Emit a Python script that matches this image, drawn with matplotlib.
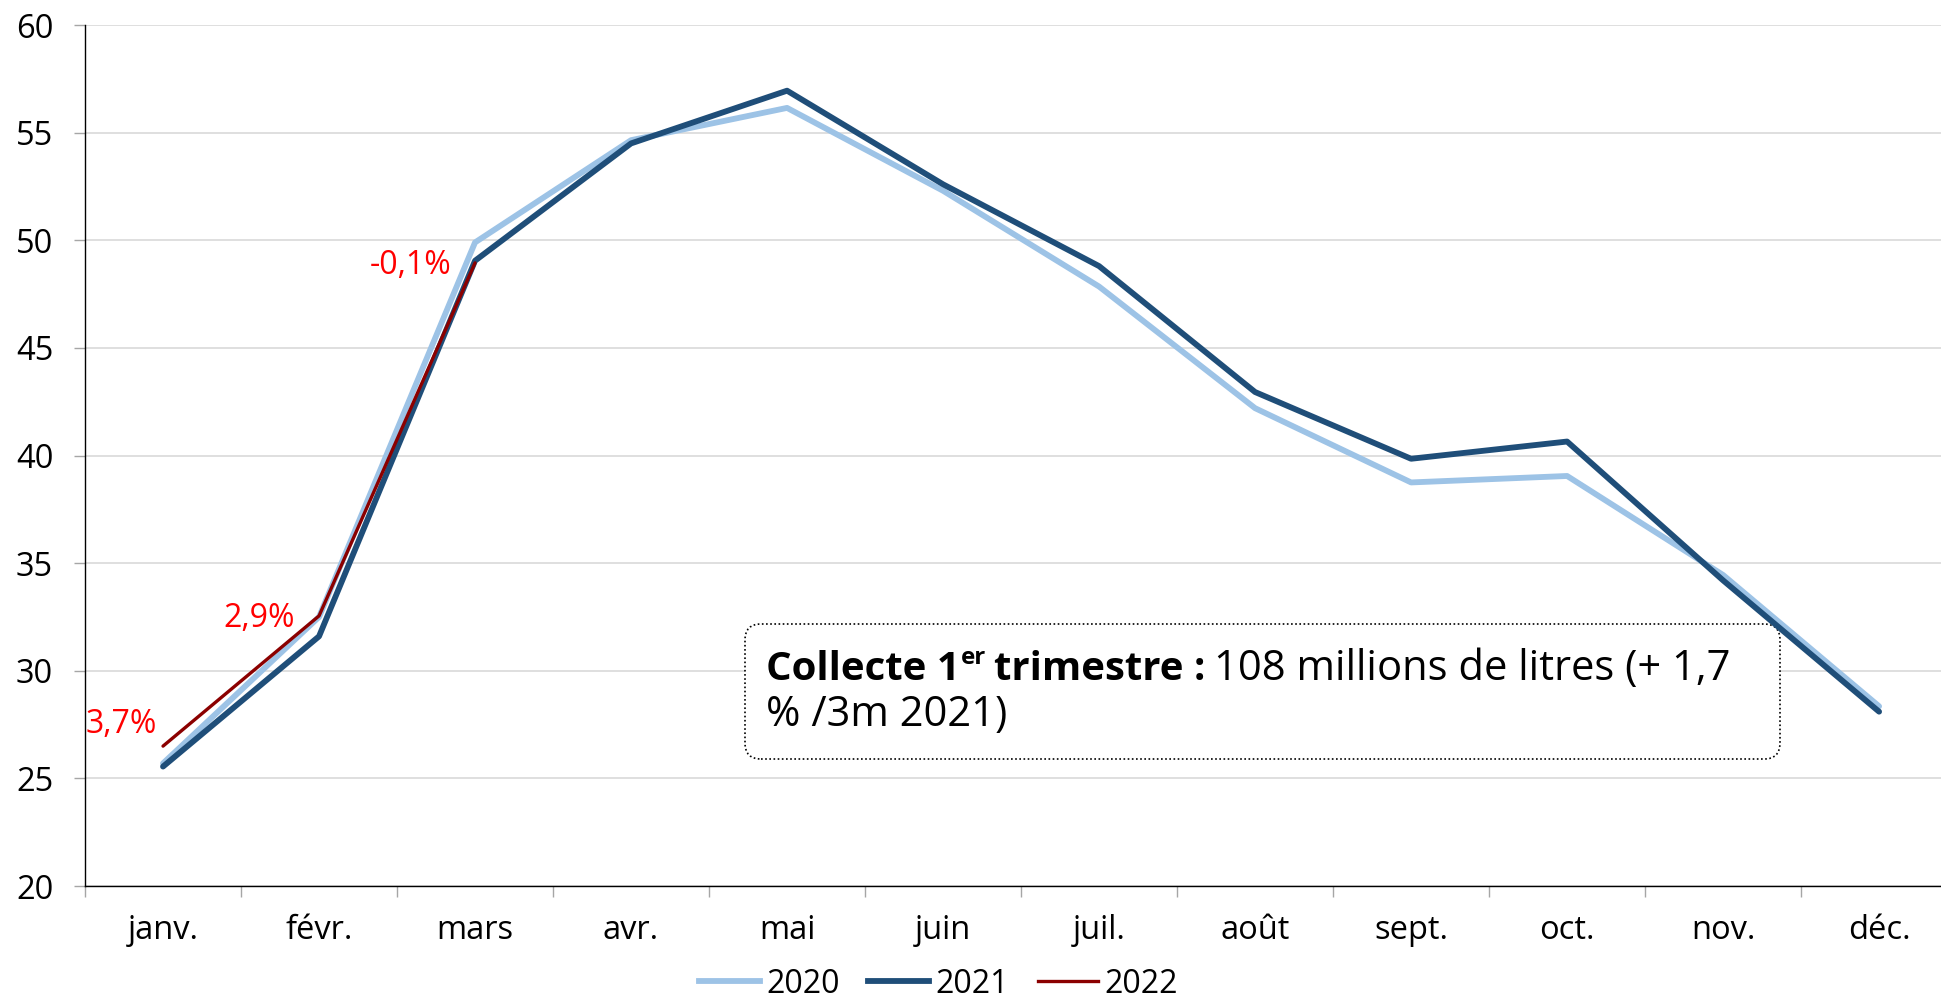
import matplotlib
matplotlib.use('Agg')
import matplotlib.pyplot as plt
from matplotlib.patches import FancyBboxPatch
from matplotlib.transforms import IdentityTransform
from matplotlib.ticker import FixedLocator
from matplotlib.lines import Line2D

plt.rcParams['font.family'] = ['Open Sans', 'DejaVu Sans']

months = ['janv.', 'févr.', 'mars', 'avr.', 'mai', 'juin',
          'juil.', 'août', 'sept.', 'oct.', 'nov.', 'déc.']
collecte_2020 = [25.7, 32.5, 49.9, 54.65, 56.15, 52.3, 47.85, 42.2, 38.75, 39.05, 34.45, 28.35]
collecte_2021 = [25.55, 31.6, 49.05, 54.5, 56.95, 52.6, 48.8, 42.95, 39.85, 40.65, 34.2, 28.1]
collecte_2022 = [26.5, 32.55, 48.95]
labels_2022 = ['3,7%', '2,9%', '-0,1%']
years = ['2020', '2021', '2022']

colors = {'2020': '#9DC3E6', '2021': '#1F4E79', '2022': '#8B0000'}

fig = plt.figure(figsize=(19.41, 9.97), dpi=100)
ax = fig.add_axes([0.0438, 0.1113, 0.9645, 0.8636])

x = list(range(len(months)))
ax.plot(x, collecte_2020, color=colors['2020'], lw=4.2, solid_capstyle='round', zorder=3)
ax.plot(x, collecte_2021, color=colors['2021'], lw=4.2, solid_capstyle='round', zorder=4)
ax.plot(x[:len(collecte_2022)], collecte_2022, color=colors['2022'], lw=2.4,
        solid_capstyle='round', zorder=5)

# pourcentages 2022 vs 2021
offsets = [(-6, 22), (-24, -3), (-24, -3)]
for i, (lab, off) in enumerate(zip(labels_2022, offsets)):
    ax.annotate(lab, (x[i], collecte_2022[i]), xytext=off, textcoords='offset pixels',
                ha='right', va='center', color='#FF0000', fontsize=23, zorder=6)

ax.set_xlim(-0.5, len(months) - 0.5)
ax.set_ylim(20, 60)
ax.set_yticks(range(20, 61, 5))
ax.set_xticks(x)
ax.set_xticklabels(months)
ax.xaxis.set_minor_locator(FixedLocator([i - 0.5 for i in range(len(months) + 1)]))
ax.tick_params(axis='x', which='major', length=0, pad=20, labelsize=23.5)
ax.tick_params(axis='x', which='minor', length=11 * 0.72, width=1, color='#A6A6A6')
ax.tick_params(axis='y', length=11 * 0.72, width=1, color='#A6A6A6', pad=15, labelsize=23.5)

ax.grid(axis='y', color='#D9D9D9', lw=1.2, zorder=0)
ax.set_axisbelow(True)
for s in ['top', 'right']:
    ax.spines[s].set_visible(False)
for s in ['left', 'bottom']:
    ax.spines[s].set_color('black')
    ax.spines[s].set_linewidth(1.0)

# encadré
box = FancyBboxPatch((745, 997 - 759), 1035, 135, boxstyle='round,pad=0,rounding_size=16',
                     transform=IdentityTransform(), facecolor='white', edgecolor='black',
                     linestyle=(0, (1, 1.5)), lw=1.2, zorder=2)
ax.add_artist(box)

renderer = fig.canvas.get_renderer()
fs_b = 29
fs_r = 30
base1 = 997 - 680
pieces = [('Collecte 1', fs_b, 'bold', 0, 1),
          ('er', fs_b * 0.6, 'bold', fs_b * 0.55, 8),
          ('trimestre :', fs_b, 'bold', 0, 9),
          ('108 millions de litres (+ 1,7', fs_r, 'normal', 0, 0)]
xpos = 766
for txt, size, weight, dy, gap in pieces:
    t = ax.text(xpos, base1 + dy, txt, transform=IdentityTransform(), fontsize=size,
                fontweight=weight, va='baseline', ha='left', zorder=7)
    bb = t.get_window_extent(renderer)
    xpos = bb.x1 + gap
ax.text(766, 997 - 726, '% /3m 2021)', transform=IdentityTransform(), fontsize=fs_r,
        va='baseline', ha='left', zorder=7)

handles = [Line2D([], [], color=colors['2020'], lw=4.2),
           Line2D([], [], color=colors['2021'], lw=4.2),
           Line2D([], [], color=colors['2022'], lw=2.4)]
fig.legend(handles, years, loc='center', bbox_to_anchor=(0.4835, 0.013), ncol=3,
           frameon=False, fontsize=23, handlelength=1.9, handletextpad=0.2,
           columnspacing=0.9)

fig.savefig('out.png', dpi=100)
